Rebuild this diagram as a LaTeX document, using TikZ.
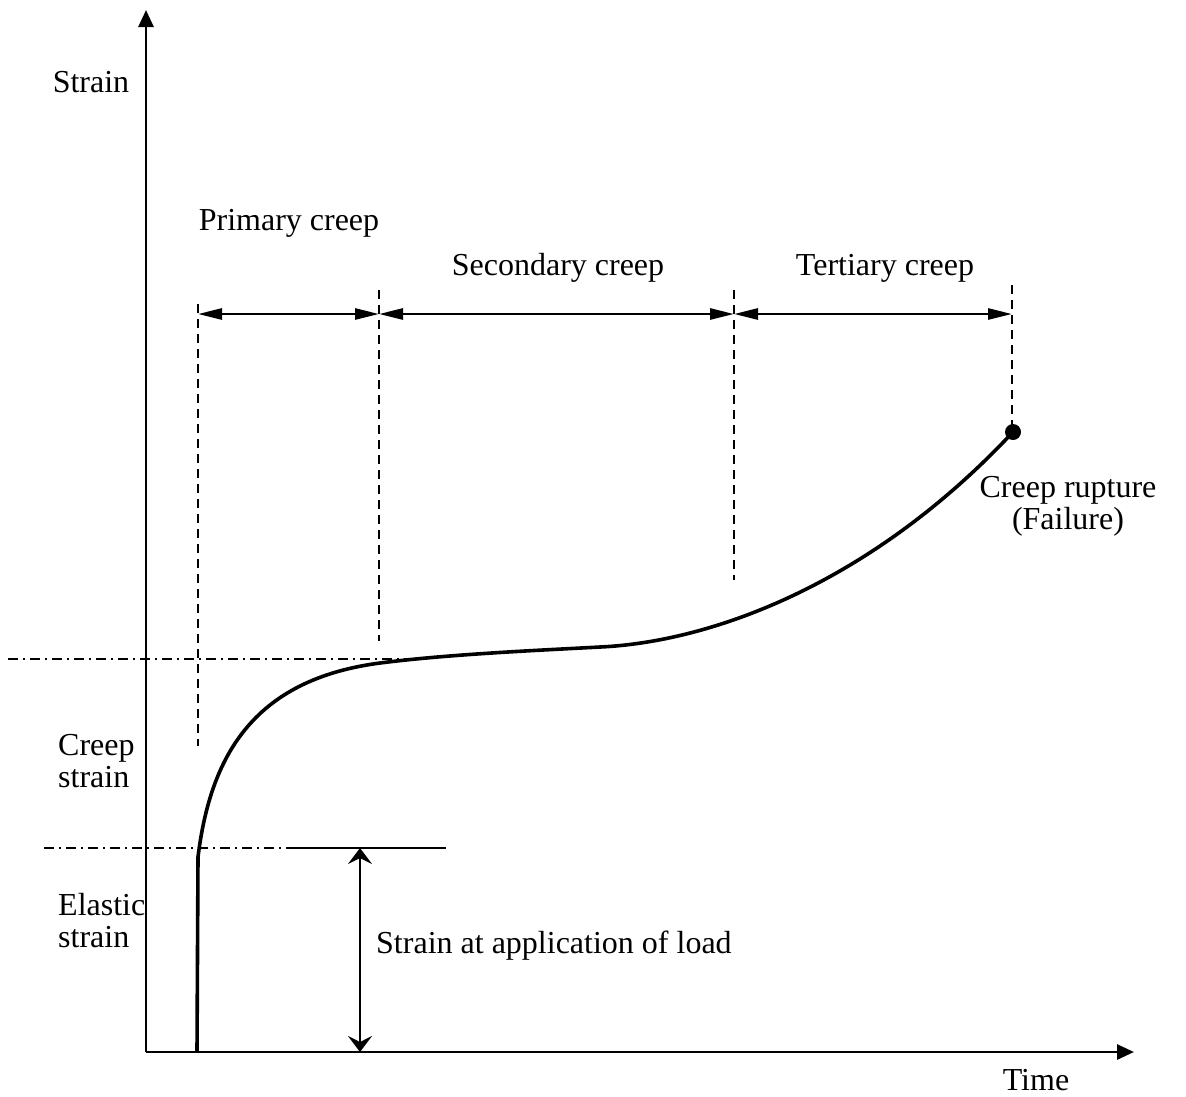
\documentclass[tikz,border=0pt]{standalone}
\usepackage{fontspec}
\setmainfont{Liberation Serif}
\usetikzlibrary{arrows.meta}
\begin{document}
\begin{tikzpicture}[x=1pt,y=-1pt,
  lbl/.style={font=\fontsize{32}{32}\selectfont, inner sep=0pt},
  axisline/.style={line width=2.8pt, -{Triangle[length=17pt,width=15pt]}},
  curveline/.style={line width=3.6pt},
  dashv/.style={line width=1.6pt, dash pattern=on 9pt off 6pt},
  dashdot/.style={line width=1.6pt, dash pattern=on 10pt off 5pt on 2pt off 5pt},
  dimarrow/.style={line width=2.8pt, {Triangle[length=24pt,width=11pt]}-{Triangle[length=24pt,width=11pt]}},
  vdim/.style={line width=2.4pt, {Stealth[length=16pt,width=24pt,inset=6pt]}-{Stealth[length=16pt,width=24pt,inset=6pt]}}
]
\useasboundingbox (0,0) rectangle (1186,1096);
% axes
\coordinate (O) at (146,1052);
\coordinate (ytop) at (146,10);
\coordinate (xend) at (1134,1052);
\draw[axisline] (O) -- (ytop);
\draw[axisline] (O) -- (xend);
% reference lines
\coordinate (cA) at (8,659);
\coordinate (cB) at (420,659);
\draw[dashdot] (cA) -- (cB);
\coordinate (eA) at (44,848);
\coordinate (eB) at (290,848);
\coordinate (eC) at (446,848);
\draw[dashdot] (eA) -- (eB);
\draw[line width=1.8pt] (eB) -- (eC);
% dashed verticals
\coordinate (v1t) at (198,304); \coordinate (v1b) at (198,746);
\coordinate (v2t) at (379,290); \coordinate (v2b) at (379,641);
\coordinate (v3t) at (734,290); \coordinate (v3b) at (734,580);
\coordinate (v4t) at (1012,285); \coordinate (v4b) at (1012,432);
\draw[dashv] (v1t) -- (v1b);
\draw[dashv] (v2t) -- (v2b);
\draw[dashv] (v3t) -- (v3b);
\draw[dashv] (v4t) -- (v4b);
% dimension arrows
\coordinate (a1) at (198,314);
\coordinate (a2) at (379,314);
\coordinate (a3) at (734,314);
\coordinate (a4) at (1012,314);
\draw[dimarrow] (a1) -- (a2);
\draw[dimarrow] (a2) -- (a3);
\draw[dimarrow] (a3) -- (a4);
\coordinate (s1) at (360,848);
\coordinate (s2) at (360,1052);
\draw[vdim] (s1) -- (s2);
% creep curve
\coordinate (c0) at (197,1052);
\coordinate (c1) at (198,857);
\coordinate (p1) at (380,663);
\coordinate (p2) at (600,647);
\coordinate (rup) at (1013,432);
\draw[curveline, line join=round] (c0) -- (c1)
  .. controls (210,760) and (250,680) .. (p1)
  .. controls (450,654) and (545,650) .. (p2)
  .. controls (710,642) and (870,585) .. (rup);
\fill (rup) circle (8pt);
% labels
\node[lbl] (tStrain) at (91,82) {Strain};
\node[lbl] (tPrim) at (289,223) {Primary creep};
\node[lbl] (tSec) at (558,268) {Secondary creep};
\node[lbl] (tTer) at (885,268) {Tertiary creep};
\node[lbl, align=center] (tRup) at (1068,506) {Creep rupture\\(Failure)};
\node[lbl, align=left, anchor=west] (tCreep) at (58,761) {Creep\\strain};
\node[lbl, align=left, anchor=west] (tElas) at (58,921) {Elastic\\strain};
\node[lbl, anchor=west] (tLoad) at (376,946) {Strain at application of load};
\node[lbl] (tTime) at (1036,1080) {Time};
\end{tikzpicture}
\end{document}
